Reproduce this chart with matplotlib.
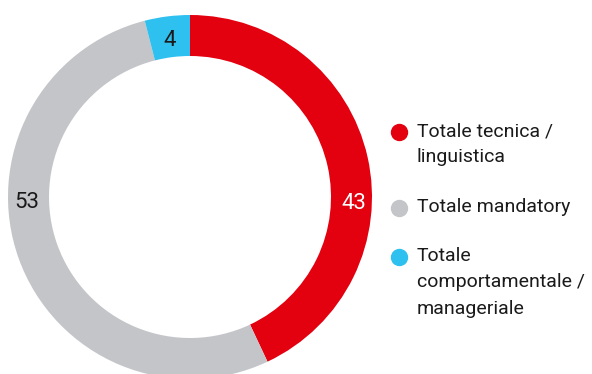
import numpy as np
import matplotlib
matplotlib.use("Agg")
import matplotlib.pyplot as plt
from matplotlib.lines import Line2D

labels = ["Totale tecnica /\nlinguistica", "Totale mandatory", "Totale\ncomportamentale /\nmanageriale"]
values = [43, 53, 4]
colors = ["#E3000F", "#C4C5C9", "#2EC0EF"]
value_colors = ["white", "#1a1a1a", "#1a1a1a"]

plt.rcParams["font.family"] = ["Roboto", "DejaVu Sans"]

W, H = 592, 374
fig = plt.figure(figsize=(W / 100, H / 100), dpi=100)
ax = fig.add_axes([0, 0, 1, 1])

cx, cy = 190, H - 197
r_out, width = 182, 41

wedges, _ = ax.pie(values, colors=colors, startangle=90, counterclock=False,
                   radius=r_out, center=(cx, cy), frame=True,
                   wedgeprops=dict(width=width, linewidth=0))
ax.set_xlim(0, W)
ax.set_ylim(0, H)
ax.set_aspect("equal")
ax.axis("off")

# value labels sit on the ring; the two big arcs get horizontal placement
r_lab = r_out - width / 2 + 2
for i, (w, v) in enumerate(zip(wedges, values)):
    if v >= 20:
        ang = 0 if i == 0 else 180
    else:
        ang = (w.theta1 + w.theta2) / 2
    x = cx + r_lab * np.cos(np.radians(ang))
    y = cy + r_lab * np.sin(np.radians(ang))
    ax.text(x, y - 6, str(v), ha="center", va="center", fontsize=16,
            color=value_colors[i])

# legend, drawn by hand
dot_y = [132, 208, 257]
for lab, col, yy in zip(labels, colors, dot_y):
    fy = 1 - yy / H
    fig.add_artist(Line2D([399 / W], [fy], marker="o", markersize=11.5,
                          color=col, transform=fig.transFigure, linestyle=""))
    fig.text(417 / W, fy + 10 / H, lab, ha="left", va="top", fontsize=14,
             color="#1a1a1a", linespacing=1.6)

fig.savefig("out.png", dpi=100)
